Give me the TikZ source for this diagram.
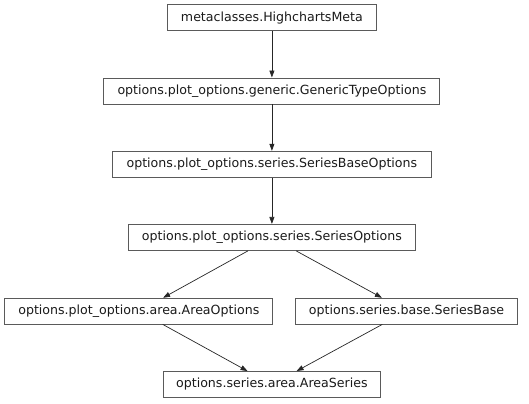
\documentclass[tikz,border=0pt]{standalone}
\usepackage{fontspec}
\setmainfont{DejaVu Sans}
\usetikzlibrary{arrows.meta}
\definecolor{boxline}{HTML}{5A5A5A}
\definecolor{txt}{HTML}{1A1A1A}
\begin{document}
\begin{tikzpicture}[x=1bp,y=-1bp,
  cls/.style={draw=boxline, line width=0.9bp, rectangle, inner sep=0pt, minimum height=25.5bp,
    text=txt, font=\fontsize{12.6bp}{14bp}\selectfont, fill=white},
  inh/.style={draw=black!85, line width=0.7bp, -{Triangle[length=7bp,width=5bp]}, shorten >=0.5bp}]
\useasboundingbox (0,0) rectangle (529,403);
\node[cls, minimum width=208.5bp] (b1) at (271.9,17.6) {metaclasses.HighchartsMeta};
\node[cls, minimum width=336bp] (b2) at (271.9,91.2) {options.plot\_options.generic.GenericTypeOptions};
\node[cls, minimum width=318.7bp] (b3) at (271.9,164.5) {options.plot\_options.series.SeriesBaseOptions};
\node[cls, minimum width=287.3bp] (b4) at (271.9,237.6) {options.plot\_options.series.SeriesOptions};
\node[cls, minimum width=267.7bp] (b5) at (138.8,311.2) {options.plot\_options.area.AreaOptions};
\node[cls, minimum width=222bp] (b6) at (406.5,311.2) {options.series.base.SeriesBase};
\node[cls, minimum width=217.4bp] (b7) at (271.9,384.5) {options.series.area.AreaSeries};
\draw[inh] (b1) -- (b2);
\draw[inh] (b2) -- (b3);
\draw[inh] (b3) -- (b4);
\draw[inh] (b4) -- (b5);
\draw[inh] (b4) -- (b6);
\draw[inh] (b5) -- (b7);
\draw[inh] (b6) -- (b7);
\end{tikzpicture}
\end{document}
